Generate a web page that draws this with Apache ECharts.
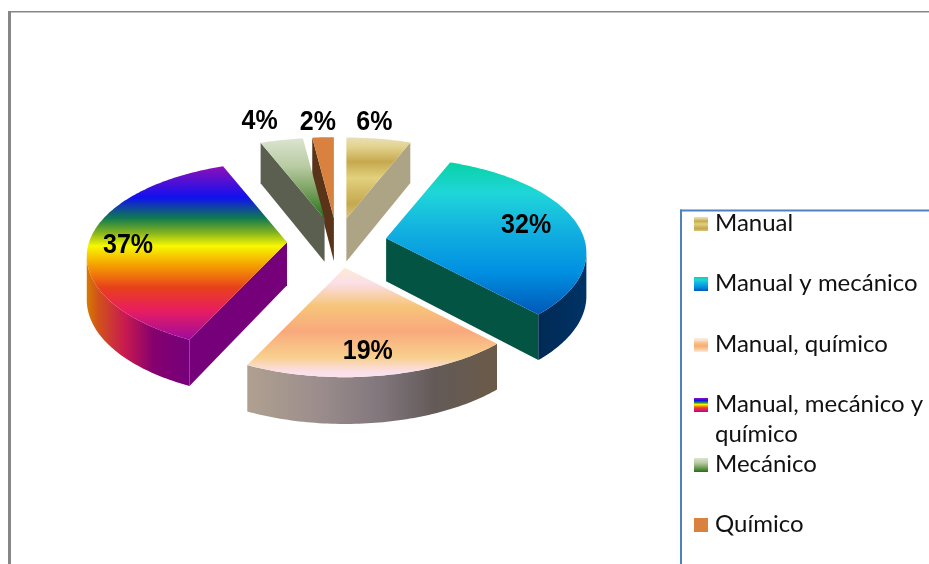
<!DOCTYPE html>
<html><head><meta charset="utf-8">
<style>html,body{margin:0;padding:0;background:#fff}#c{width:929px;height:564px}</style>
<script src="https://cdn.jsdelivr.net/npm/echarts@6/dist/echarts.min.js"></script>
</head><body><div id="c"></div>
<script>
const categories = ['Manual','Manual y mecánico','Manual, químico','Manual, mecánico y\nquímico','Mecánico','Químico'];
const values = [6,32,19,37,4,2];

// Styles (top gradient stops, visible cut-face colour, outer wall gradient stops)
const topStops = [
  [[0,'#e9dfb8'],[.12,'#e2d28c'],[.3,'#c6a94e'],[.5,'#e2d07e'],[.82,'#c5a84e'],[1,'#d8c37a']],
  [[0,'#08d2a6'],[.2,'#1fd6d8'],[.45,'#12b0e0'],[.72,'#0090e2'],[1,'#0058b8']],
  [[0,'#fdebd2'],[.14,'#fbdfe8'],[.35,'#f6c57a'],[.58,'#f9a97c'],[.82,'#f8d08e'],[.95,'#fbdfe8'],[1,'#fbe4e8']],
  [[0,'#8f0fb8'],[.18,'#1010f0'],[.3,'#117a50'],[.38,'#7fb020'],[.46,'#f8f800'],[.57,'#f5a000'],[.7,'#e8401c'],[.83,'#e81e5f'],[1,'#a00aa0']],
  [[0,'#dbe4d0'],[.35,'#b8cba2'],[.7,'#6f9a55'],[1,'#1f7016']],
  [[0,'#d9813e'],[1,'#d9813e']]
];
const faceColors = ['#aca484','#035443','#8a7a70','#75007a','#5a5f50','#5a3418'];
const wallStops = [
  [[0,'#aca484'],[1,'#aca484']],
  [[0,'#002a55'],[1,'#003366']],
  [[0,'#b0a090'],[.3,'#9a8c8c'],[.55,'#7f757a'],[.75,'#635a58'],[1,'#6b5a48']],
  [[0,'#d87a00'],[.12,'#d0501c'],[.37,'#c81a50'],[.65,'#85006f'],[1,'#75007a']],
  [[0,'#5a5f50'],[1,'#5a5f50']],
  [[0,'#5a3418'],[1,'#5a3418']]
];
// Layout of the tilted, exploded pie
const CX=337, CY=243, EX=50, EY=25, R=198, TILT=.47, PERSP=.15, DEPTH=43;
const labelOffset = [[28,-96],[140,-13],[23,84],[-159,3],[-65,-98],[-16,-96]];

const total = values.reduce((a,b)=>a+b,0);
const grad = (x2,y2,stops)=>new echarts.graphic.LinearGradient(0,0,x2,y2,stops.map(s=>({offset:s[0],color:s[1]})));

function renderSlice(params, api){
  const i = api.value(1);
  let before = 0;
  for(let k=0;k<i;k++) before += values[k];
  const a0 = before/total*2*Math.PI, a1 = (before+api.value(0))/total*2*Math.PI, mid=(a0+a1)/2;
  const ax = CX+EX*Math.sin(mid), ay = CY-EY*Math.cos(mid);
  const rim = a=>{
    const v=-Math.cos(a), p=1/(1-PERSP*v);
    const X=ax+R*Math.sin(a)*p, Y=ay+R*TILT*v*p;
    return {t:[X,Y], b:[X,Y+DEPTH*(.5+.5*p)]};
  };
  const apexT=[ax,ay], apexB=[ax,ay+DEPTH];
  const n=Math.max(4,Math.ceil((a1-a0)*180/Math.PI));
  const pts=[];
  for(let k=0;k<=n;k++) pts.push(rim(a0+(a1-a0)*k/n));
  const base=Math.round((2-Math.cos(mid))*100);
  const kids=[];
  const poly=(points,fill,z)=>kids.push({type:'polygon',z2:base+z,shape:{points},style:{fill,stroke:null}});
  const first=pts[0], last=pts[n];
  if(first.t[0]<ax) poly([apexT,first.t,first.b,apexB],faceColors[i],1);
  if(last.t[0]>ax) poly([last.t,apexT,apexB,last.b],faceColors[i],1);
  const front=[];
  for(let k=0;k<=n;k++){
    const prevOK=k>0&&pts[k].t[0]<pts[k-1].t[0], nextOK=k<n&&pts[k+1].t[0]<pts[k].t[0];
    if(prevOK||nextOK) front.push(pts[k]);
  }
  if(front.length>1){
    poly(front.map(p=>p.t).concat(front.slice().reverse().map(p=>p.b)),grad(1,0,wallStops[i]),2);
  }
  poly([apexT].concat(pts.map(p=>p.t)),grad(0,1,topStops[i]),3);
  const off=labelOffset[i];
  kids.push({type:'text',z2:1000,x:ax+off[0],y:ay+off[1],scaleY:1.12,style:{
    text:api.value(0)+'%',x:0,y:0,align:'center',verticalAlign:'middle',
    font:'bold 25px "Liberation Sans", Arial, sans-serif',fill:'#000'}});
  return {type:'group',children:kids};
}

// Frame and legend
const graphicEls=[
  {type:'rect',shape:{x:8,y:11,width:921,height:1.5},style:{fill:'#868686'},silent:true},
  {type:'rect',shape:{x:8,y:11,width:3,height:553},style:{fill:'#868686'},silent:true},
  {type:'rect',shape:{x:680,y:209.5,width:249,height:2},style:{fill:'#4f81bd'},silent:true},
  {type:'rect',shape:{x:680,y:209.5,width:2,height:355},style:{fill:'#4f81bd'},silent:true}
];
const legendSwatchY=[217,277,338,398,458,518];
categories.forEach((name,i)=>{
  graphicEls.push({type:'rect',shape:{x:694,y:legendSwatchY[i],width:14,height:14},style:{fill:grad(0,1,topStops[i])},silent:true});
  graphicEls.push({type:'text',silent:true,style:{text:name,x:715,y:legendSwatchY[i]-9,font:'24px Lato, sans-serif',fill:'#111',lineHeight:30,align:'left',verticalAlign:'top'}});
});

const chart=echarts.init(document.getElementById('c'),null,{renderer:'canvas'});
chart.setOption({
  animation:false,
  backgroundColor:'#fff',
  graphic:{elements:graphicEls},
  series:[{
    type:'custom',
    coordinateSystem:'none',
    name:'Distribución',
    renderItem:renderSlice,
    data:values.map((v,i)=>({name:categories[i],value:[v,i]}))
  }]
});
</script></body></html>
